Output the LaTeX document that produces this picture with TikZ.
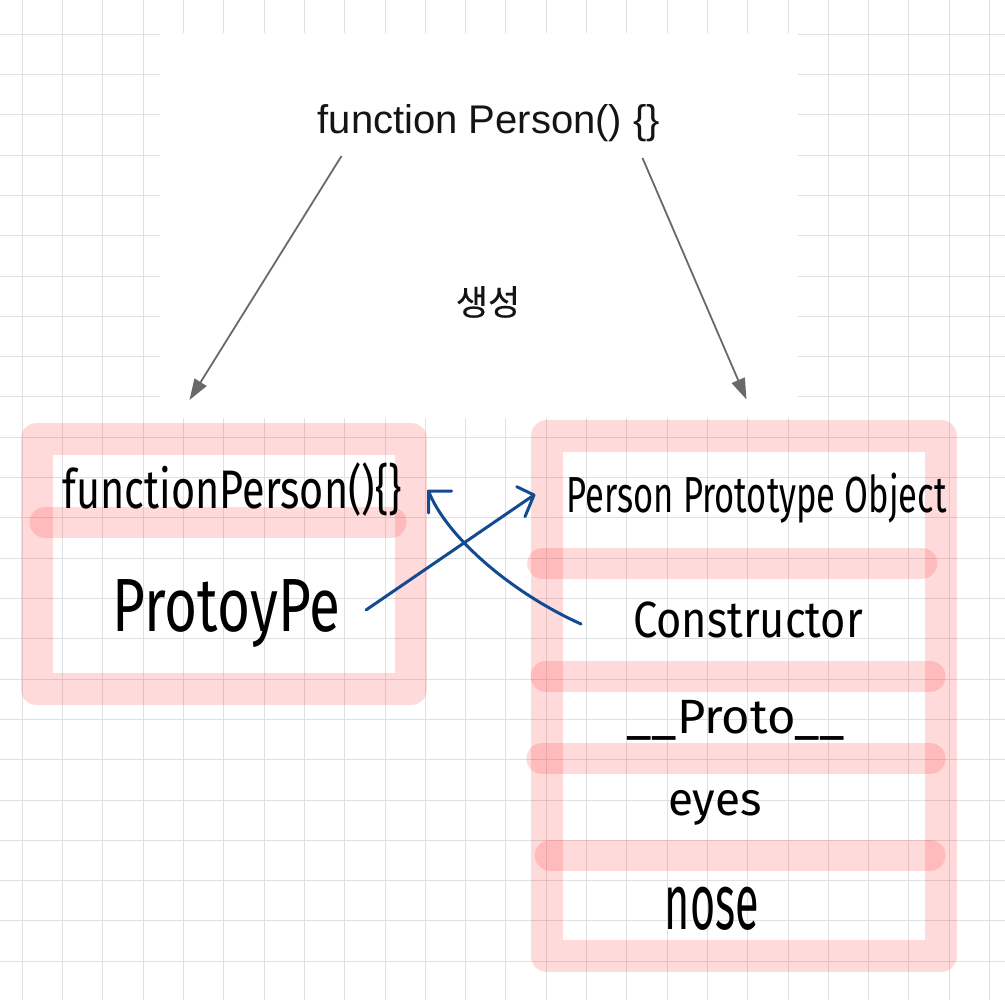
\documentclass[tikz,border=0pt]{standalone}
\usepackage{fontspec}
\usepackage{graphicx}
\setmainfont{Liberation Sans}
\newfontfamily\krfont{Noto Sans CJK KR}[FakeBold=0.4]
\newfontfamily\handfont{Fira Sans}
\usetikzlibrary{arrows.meta}
\definecolor{gridc}{RGB}{224,224,224}
\definecolor{pinkc}{RGB}{255,40,40}
\definecolor{inkblue}{RGB}{20,74,143}
\definecolor{arrowgray}{RGB}{105,105,105}
\definecolor{titleink}{RGB}{20,20,20}
\begin{document}
\begin{tikzpicture}[x=1pt,y=-1pt,
  gridline/.style={draw=gridc, line width=1pt},
  pinkframe/.style={draw=pinkc, draw opacity=0.17, line width=32pt, line join=round},
  pinkbar/.style={draw=pinkc, draw opacity=0.17, line width=31pt, line cap=round},
  hand/.style={inner sep=0pt, text=black},
  gen/.style={draw=arrowgray, line width=1.8pt, -{Triangle[length=21pt,width=14pt]}},
  blueink/.style={draw=inkblue, line width=3pt, line cap=round, line join=round},
]
\useasboundingbox (0,0) rectangle (1005,1000);
\fill[white] (0,0) rectangle (1005,1000);
% grid
\foreach \i in {0,...,24} { \draw[gridline] ({22.3+40.3*\i},0) -- ({22.3+40.3*\i},1000); }
\foreach \j in {0,...,23} { \draw[gridline] (0,{34.3+40.3*\j}) -- (1005,{34.3+40.3*\j}); }
% white screenshot patch
\fill[white] (160,33.4) rectangle (798,418);
% title and label
\node[font=\fontsize{40}{48}\selectfont, text=titleink, anchor=base, inner sep=0pt] (title) at (489,134) {function Person() \{\}};
\node[font=\krfont\fontsize{35}{40}\selectfont, text=titleink, inner sep=0pt] (gen) at (488,302) {생성};
% generation arrows
\coordinate (g1s) at (341.5,156);
\coordinate (g1e) at (189.5,400);
\coordinate (g2s) at (642.5,158);
\coordinate (g2e) at (746.5,399.5);
\draw[gen] (g1s) -- (g1e);
\draw[gen] (g2s) -- (g2e);
% pink frames
\draw[pinkframe] (36.5,439) rectangle (411.2,689);
\draw[pinkbar] (45,522) -- (391,522);
\draw[pinkframe] (546.5,436) rectangle (941,956);
\draw[pinkbar] (542.7,563) -- (921.7,563);
\draw[pinkbar] (546,676) -- (930,676);
\draw[pinkbar] (542,758.5) -- (930,758.5);
\draw[pinkbar] (550.3,855) -- (930,855);
% handwritten texts
\node[hand] (fnp) at (232.2,489.9) {\resizebox*{339pt}{53.7pt}{\handfont functionPerson()\{\}}};
\node[hand] (protoL) at (226.4,614) {\resizebox*{227.3pt}{68pt}{\handfont ProtoyPe}};
\node[hand] (ppo) at (756.7,497.9) {\resizebox*{380pt}{50.3pt}{\handfont Person Prototype Object}};
\node[hand] (cons) at (747.9,619.9) {\resizebox*{229.7pt}{36.3pt}{\handfont Constructor}};
\node[hand] (dproto) at (735.9,720) {\resizebox*{218.3pt}{40pt}{\handfont \_\_Proto\_\_}};
\node[hand] (eyes) at (714.9,807.5) {\resizebox*{93.7pt}{35pt}{\handfont eyes}};
\node[hand] (nose) at (712,908.3) {\resizebox*{94pt}{43.3pt}{\handfont nose}};
% blue arrows
\coordinate (b1s) at (366,610);
\coordinate (b1t) at (534,495);
\draw[blueink] (b1s) -- (b1t) -- +(-17.3,-8.3) (b1t) -- +(-9,21.7);
\coordinate (b2s) at (581,624);
\coordinate (b2t) at (428.5,491);
\draw[blueink] (b2s) .. controls (510,592) and (446,536) .. (b2t) -- +(23,0) (b2t) -- +(0,22);
\end{tikzpicture}
\end{document}
